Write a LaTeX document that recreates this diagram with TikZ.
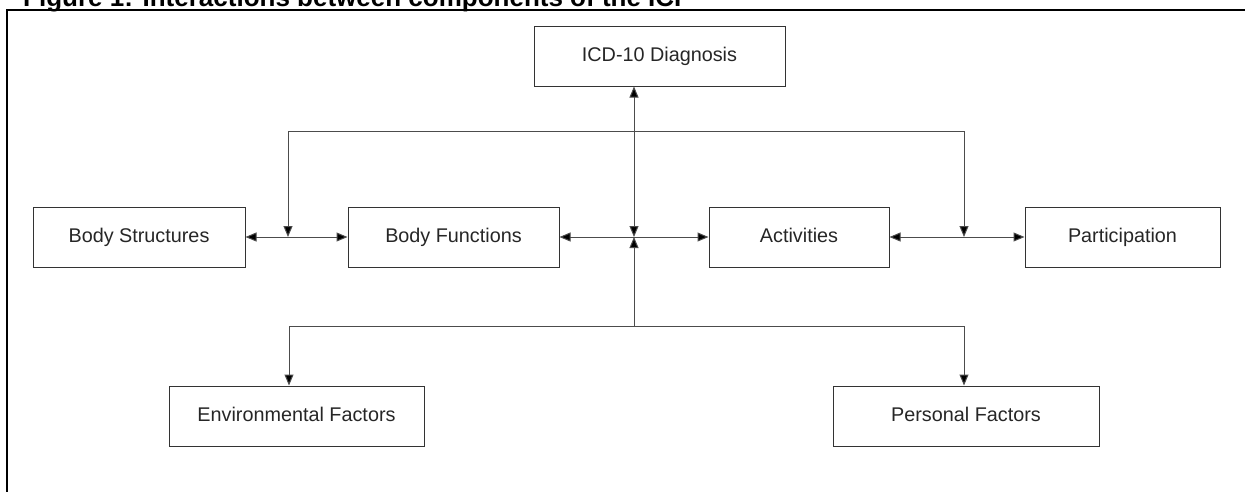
\documentclass[tikz,border=0pt]{standalone}
\usepackage{fontspec}
\setmainfont{Liberation Sans}
\usepackage{tikz}
\usetikzlibrary{arrows.meta,positioning}

\tikzset{
  box/.style={draw=black!80, line width=1pt, minimum height=60pt, inner sep=0pt, text height=14pt, text depth=4pt, text=black!85, font=\fontsize{19.8}{24}\selectfont},
  link/.style={draw=black!70, line width=1pt}
}

\begin{document}
\begin{tikzpicture}[x=1pt, y=-1pt, >={Triangle[length=11pt,width=9pt,fill=black]}]
\useasboundingbox (0,0) rectangle (1245,491);

\node (title) at (23,6.5) [anchor=base west, inner sep=0pt, font=\fontsize{26}{30}\selectfont\bfseries] {Figure 1: Interactions between components of the ICF};
\draw[line width=2.2pt] (1250,10) -- (7,10) -- (7,496);

\node (icd) at (659.5,56) [box, minimum width=251pt] {ICD-10 Diagnosis};
\node (bs) at (139,237) [box, minimum width=212pt] {Body Structures};
\node (bf) at (453.5,237) [box, minimum width=211pt] {Body Functions};
\node (act) at (799,237) [box, minimum width=180pt] {Activities};
\node (part) at (1122.5,237) [box, minimum width=195pt] {Participation};
\node (env) at (296.5,416) [box, minimum width=255pt] {Environmental Factors};
\node (pers) at (966,416) [box, minimum width=266pt] {Personal Factors};

\coordinate (hub) at (634,237);
\coordinate (tl) at (288,131);
\coordinate (tr) at (964,131);
\coordinate (bl) at (289,326);
\coordinate (br) at (964,326);

\draw[link, <->] (icd.south -| hub) -- (hub);
\draw[link, ->] (hub |- bl) -- (hub);
\draw[link, <->] (bs) -- (bf);
\draw[link, <->] (bf) -- (act);
\draw[link, <->] (act) -- (part);
\draw[link, <->] (tl |- bs.east) -- (tl) -- (tr) -- (tr |- act.east);
\draw[link, <->] (env.north -| bl) -- (bl) -- (br) -- (pers.north -| br);
\end{tikzpicture}
\end{document}
